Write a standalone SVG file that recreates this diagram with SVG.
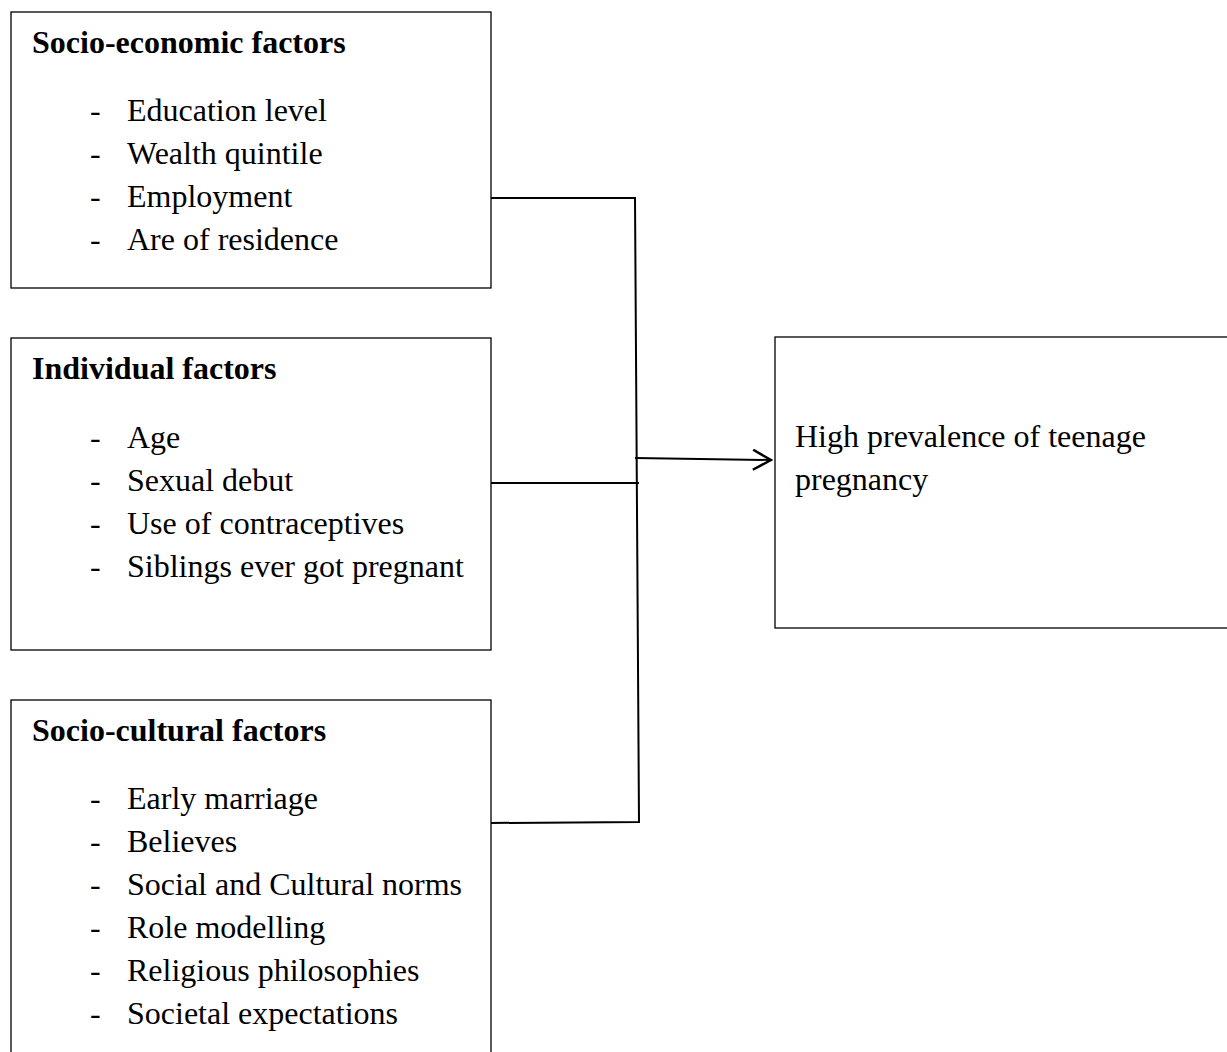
<svg xmlns="http://www.w3.org/2000/svg" width="1227" height="1052" viewBox="0 0 1227 1052">
<defs>
<style>
.box{fill:#fff;stroke:#000;stroke-width:1.3}
.t{font-family:"Liberation Serif","Times New Roman",serif;font-size:32px;fill:#000}
.b{font-weight:bold}
.c{fill:none;stroke:#000;stroke-width:2}
</style>
<marker id="arr" viewBox="0 0 22 22" refX="20" refY="11" markerWidth="22" markerHeight="22" markerUnits="userSpaceOnUse" orient="auto">
<path d="M2,1 L20,11 L2,21" fill="none" stroke="#000" stroke-width="2.5"/>
</marker>
</defs>
<rect width="1227" height="1052" fill="#fff"/>
<g id="connectors">
<polyline class="c" points="491,198 635,198 639,822 491,823"/>
<line class="c" x1="491" y1="483" x2="639" y2="483"/>
<line class="c" x1="635" y1="458" x2="771" y2="460" stroke-width="2.5" marker-end="url(#arr)"/>
</g>
<g id="socio-economic">
<rect class="box" x="11" y="12" width="480" height="276"/>
<text class="t b" x="32" y="53">Socio-economic factors</text>
<text class="t" x="90" y="121">-</text><text class="t" x="127" y="121">Education level</text>
<text class="t" x="90" y="164">-</text><text class="t" x="127" y="164">Wealth quintile</text>
<text class="t" x="90" y="207">-</text><text class="t" x="127" y="207">Employment</text>
<text class="t" x="90" y="250">-</text><text class="t" x="127" y="250">Are of residence</text>
</g>
<g id="individual">
<rect class="box" x="11" y="338" width="480" height="312"/>
<text class="t b" x="32" y="379">Individual factors</text>
<text class="t" x="90" y="448">-</text><text class="t" x="127" y="448">Age</text>
<text class="t" x="90" y="491">-</text><text class="t" x="127" y="491">Sexual debut</text>
<text class="t" x="90" y="534">-</text><text class="t" x="127" y="534">Use of contraceptives</text>
<text class="t" x="90" y="577">-</text><text class="t" x="127" y="577">Siblings ever got pregnant</text>
</g>
<g id="socio-cultural">
<rect class="box" x="11" y="700" width="480" height="360"/>
<text class="t b" x="32" y="741">Socio-cultural factors</text>
<text class="t" x="90" y="809">-</text><text class="t" x="127" y="809">Early marriage</text>
<text class="t" x="90" y="852">-</text><text class="t" x="127" y="852">Believes</text>
<text class="t" x="90" y="895">-</text><text class="t" x="127" y="895">Social and Cultural norms</text>
<text class="t" x="90" y="938">-</text><text class="t" x="127" y="938">Role modelling</text>
<text class="t" x="90" y="981">-</text><text class="t" x="127" y="981">Religious philosophies</text>
<text class="t" x="90" y="1024">-</text><text class="t" x="127" y="1024">Societal expectations</text>
</g>
<g id="outcome">
<rect class="box" x="775" y="337" width="460" height="291"/>
<text class="t" x="795" y="447">High prevalence of teenage</text>
<text class="t" x="795" y="490">pregnancy</text>
</g>
</svg>
